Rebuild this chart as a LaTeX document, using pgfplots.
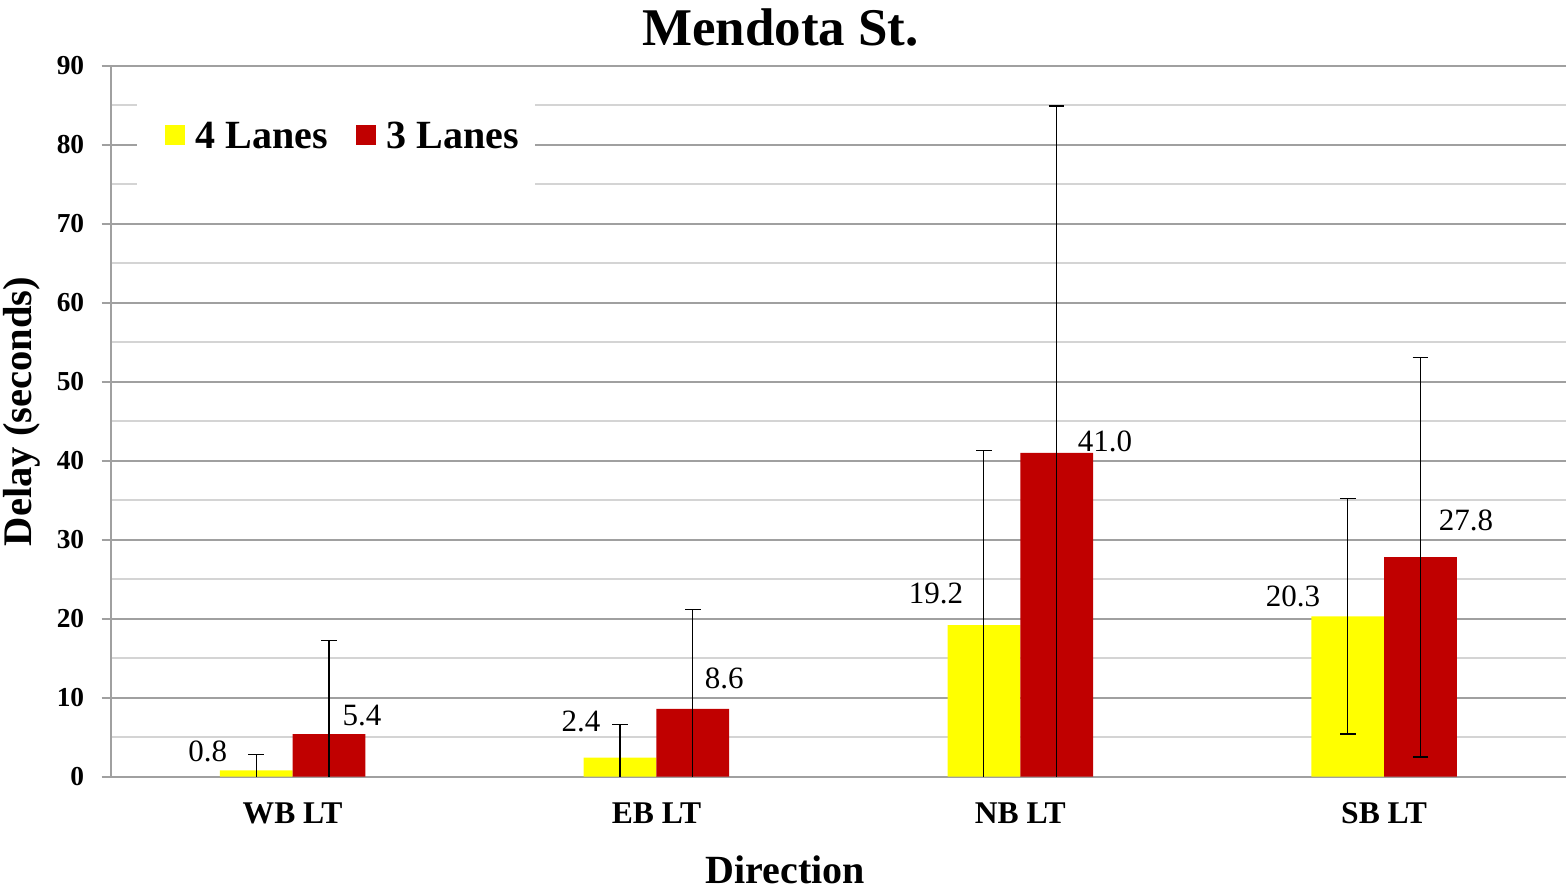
\documentclass[border=0pt]{standalone}
\usepackage{fontspec}
\setmainfont{Liberation Serif}
\usepackage{pgfplots}
\pgfplotsset{compat=1.18}
\usepackage{pgfplotstable}
\definecolor{majgrid}{RGB}{160,160,160}
\definecolor{mingrid}{RGB}{212,212,212}
\definecolor{lyellow}{RGB}{255,255,0}
\definecolor{lred}{RGB}{192,0,0}

\pgfplotstableread{
x y err dx dy
0 0.8 2.0 -24.25 4.11
1 2.4 4.2 -19.5 12.76
2 19.2 22.1 -24.0 10.26
3 20.3 14.9 -27.35 4.56
}\fourlanes
\pgfplotstableread{
x y err dx dy
0 5.4 11.8 16.5 3.61
1 8.6 12.6 15.7 9.76
2 41.0 43.9 24.2 0.26
3 27.8 25.3 22.8 12.96
}\threelanes

\begin{document}
\begin{tikzpicture}
\useasboundingbox (-55.35pt,-58.65pt) rectangle (727.65pt,388.35pt);
\begin{axis}[
  at={(0pt,0pt)}, anchor=south west,
  scale only axis, width=727.65pt, height=355.5pt,
  xmin=-0.5, xmax=3.5, ymin=0, ymax=90,
  axis x line*=bottom, axis y line*=left,
  axis line style={draw=majgrid, line width=0.9pt},
  xtick={0,1,2,3}, xticklabels={WB LT,EB LT,NB LT,SB LT},
  x tick style={draw=none},
  ytick={0,10,...,90},
  minor y tick num=1,
  y tick style={draw=majgrid, line width=0.9pt},
  minor y tick style={draw=none},
  tick align=outside, major tick length=4.5pt,
  ymajorgrids, yminorgrids,
  major grid style={draw=majgrid, line width=0.9pt},
  minor grid style={draw=mingrid, line width=0.9pt},
  /pgf/number format/assume math mode=true,
  yticklabel style={font=\bfseries\fontsize{13.7}{16}\selectfont, anchor=east, inner sep=0pt, xshift=-8.55pt},
  xticklabel style={font=\bfseries\fontsize{15.8}{18}\selectfont, anchor=base, inner sep=0pt, yshift=-18.8pt},
  title={Mendota St.},
  every axis title/.style={at={(axis description cs:0.4602,1.0291)}, anchor=base, font=\bfseries\fontsize{26.5}{30}\selectfont, inner sep=0pt},
  xlabel={Direction},
  every axis x label/.style={at={(axis description cs:0.4637,-0.1509)}, anchor=base, font=\bfseries\fontsize{20}{24}\selectfont, inner sep=0pt},
  ylabel={Delay (seconds)},
  every axis y label/.style={at={(axis description cs:-0.0543,0.5136)}, rotate=90, anchor=base, font=\bfseries\fontsize{20.3}{24}\selectfont, inner sep=0pt},
  ybar, bar width=0.2,
  legend columns=2,
  legend style={at={(axis description cs:0.0179,0.9021)}, anchor=west, draw=none, fill=white,
    inner xsep=8pt, inner ysep=20.75pt,
    font=\bfseries\fontsize{20}{24}\selectfont,
    cells={anchor=base west}, nodes={inner sep=0pt, text depth=0pt},
    /tikz/every odd column/.append style={column sep=5.3pt},
    /tikz/every even column/.append style={column sep=8.3pt}},
  legend image code/.code={\path (-5.9pt,0pt); \fill[#1] (0pt,1.75pt) rectangle (10pt,11.75pt);},
  nodes near coords={\pgfmathprintnumber[fixed,fixed zerofill,precision=1]{\pgfplotspointmeta}},
  visualization depends on={\thisrow{dx} \as \dx},
  visualization depends on={\thisrow{dy} \as \dy},
  every node near coord/.append style={font=\fontsize{15.5}{18}\selectfont, inner sep=0pt, black, xshift=\dx, yshift=\dy},
]
\addplot[fill=lyellow, draw=none, bar shift=-0.1,
  error bars/.cd, y dir=both, y explicit,
  error bar style={black, line width=0.6pt},
  error mark options={black, line width=0.6pt, mark size=3.9pt, rotate=90}]
  table[x=x, y=y, y error=err] {\fourlanes};
\addlegendentry{4 Lanes}
\addplot[fill=lred, draw=none, bar shift=0.1,
  error bars/.cd, y dir=both, y explicit,
  error bar style={black, line width=0.6pt},
  error mark options={black, line width=0.6pt, mark size=3.9pt, rotate=90}]
  table[x=x, y=y, y error=err] {\threelanes};
\addlegendentry{3 Lanes}
\end{axis}
\end{tikzpicture}
\end{document}
